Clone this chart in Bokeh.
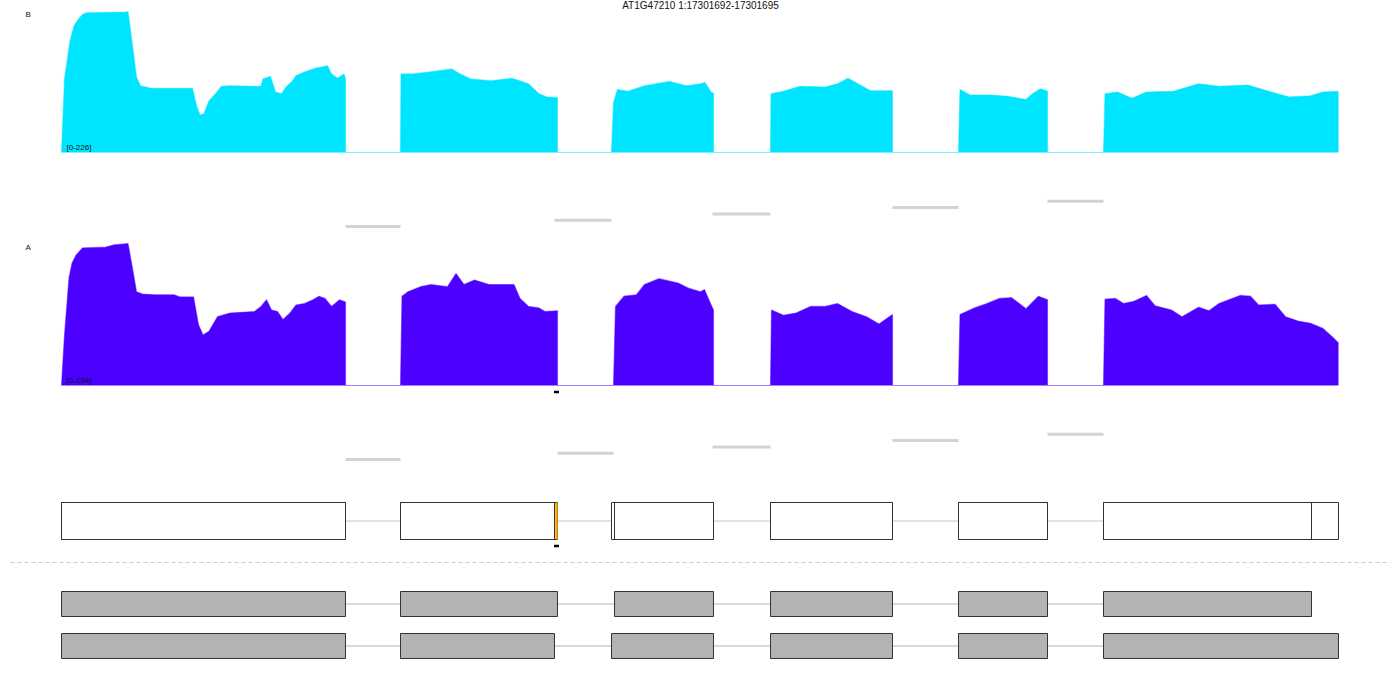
from bokeh.plotting import figure
from bokeh.models import Range1d, Label
from bokeh.embed import file_html
from bokeh.resources import INLINE

# ---------------- data ----------------
GENE = "AT1G47210"
CHROM = "1"
GENE_START = 17300704          # genomic coordinate of offset 0
LOCUS = (17301692, 17301695)   # highlighted locus

# coverage of sample B (offsets in bp from GENE_START, read depth)
B_POS = [0, 6, 17, 25, 34, 42, 50, 129, 133, 142, 150, 158, 179, 262, 270, 277, 285, 295, 308, 320,
         337, 399, 403, 418, 428, 440, 449, 461, 469, 486, 507, 532, 540, 552, 565, 568,
         568, 678,
         679, 702, 735, 781, 797, 818, 859, 901, 934, 955, 971, 988, 992,
         992, 1100,
         1104, 1112, 1133, 1166, 1216, 1250, 1278, 1287, 1299, 1304,
         1304, 1418,
         1419, 1444, 1477, 1527, 1552, 1573, 1593, 1618, 1661, 1662,
         1662, 1794,
         1797, 1817, 1859, 1892, 1929, 1942, 1958, 1972,
         1972, 2084,
         2087, 2112, 2141, 2170, 2224, 2274, 2315, 2373, 2423, 2456, 2498, 2523, 2554]
B_COV = [0, 118, 179, 203, 214, 221, 224, 225, 226, 171, 121, 107, 103, 103, 75, 60, 62, 83, 94, 106,
         107, 106, 118, 122, 97, 94, 105, 114, 123, 129, 135, 139, 126, 119, 126, 117,
         0, 0,
         126, 126, 129, 134, 126, 118, 115, 119, 110, 94, 89, 88, 88,
         0, 0,
         80, 101, 98, 107, 114, 107, 110, 112, 97, 95,
         0, 0,
         94, 98, 106, 105, 110, 119, 110, 99, 99, 99,
         0, 0,
         101, 92, 92, 90, 85, 94, 102, 98,
         0, 0,
         94, 97, 87, 97, 98, 110, 106, 108, 96, 89, 91, 97, 98]
B_MAX = 226

# coverage of sample A
A_POS = [0, 6, 15, 21, 29, 42, 88, 104, 133, 142, 150, 162, 187, 225, 237, 264, 274, 283, 295, 312,
         337, 386, 399, 410, 420, 432, 443, 457, 469, 486, 503, 515, 527, 540, 556, 568,
         568, 678,
         681, 693, 718, 739, 772, 789, 805, 826, 855, 905, 917, 934, 955, 967, 992,
         992, 1104,
         1108, 1125, 1150, 1166, 1195, 1233, 1254, 1278, 1286, 1298, 1304,
         1304, 1418,
         1420, 1444, 1469, 1498, 1527, 1552, 1581, 1610, 1635, 1662,
         1662, 1794,
         1797, 1826, 1851, 1876, 1900, 1929, 1954, 1972,
         1972, 2084,
         2087, 2108, 2124, 2145, 2170, 2187, 2220, 2241, 2274, 2295, 2315, 2357, 2378, 2394, 2427,
         2448, 2473, 2498, 2523, 2544, 2554]
A_COV = [0, 69, 147, 167, 178, 188, 189, 192, 194, 160, 128, 125, 124, 124, 121, 121, 83, 69, 74, 94,
         99, 101, 108, 117, 103, 101, 90, 99, 110, 112, 117, 122, 119, 108, 117, 114,
         0, 0,
         122, 128, 135, 138, 135, 153, 138, 144, 138, 138, 119, 108, 106, 101, 102,
         0, 0,
         108, 122, 124, 138, 146, 140, 133, 128, 131, 112, 103,
         0, 0,
         103, 96, 99, 108, 108, 112, 101, 94, 84, 97,
         0, 0,
         97, 106, 112, 119, 120, 105, 122, 117,
         0, 0,
         118, 119, 112, 115, 123, 109, 103, 94, 107, 102, 112, 123, 122, 110, 111,
         94, 88, 85, 78, 65, 58]
A_MAX = 194

# splice junctions (start, end offsets)
B_JUNC_START = [568, 986, 1302, 1662, 1972]
B_JUNC_END = [678, 1100, 1418, 1794, 2084]
A_JUNC_START = [568, 992, 1302, 1662, 1972]
A_JUNC_END = [678, 1104, 1418, 1794, 2084]

# transcripts (exon starts / ends, offsets)
T1_STARTS = [0, 678, 1106, 1418, 1794, 2084]
T1_ENDS = [568, 992, 1304, 1662, 1972, 2500]
T2_STARTS = [0, 678, 1100, 1418, 1794, 2084]
T2_ENDS = [568, 986, 1304, 1662, 1972, 2554]

assert len(B_POS) == len(B_COV) and len(A_POS) == len(A_COV)

# ---------------- layout ----------------
W, H = 1400, 700
X0_PX, X1_PX = 61, 1338
SPAN = T2_ENDS[-1] - T1_STARTS[0]
BP_PER_PX = SPAN / (X1_PX - X0_PX)
xr = Range1d(-X0_PX * BP_PER_PX, (W - X0_PX) * BP_PER_PX)

p = figure(width=W, height=H, x_range=xr, y_range=Range1d(H, 0),
           toolbar_location=None, output_backend="svg", min_border=0,
           background_fill_color="white", border_fill_color="white")
p.axis.visible = False
p.xgrid.visible = False
p.ygrid.visible = False
p.outline_line_color = None


def track_range(base_px, top_px, vmax):
    per = vmax / (base_px - top_px)
    return Range1d(start=-(H - base_px) * per, end=vmax + top_px * per)


p.extra_y_ranges = {"B": track_range(152, 11, B_MAX), "A": track_range(385, 243, A_MAX)}

COL_B = "#00e5ff"
COL_A = "#4c00ff"
FONT = "Liberation Sans"

for name, pos, cov, col in (("B", B_POS, B_COV, COL_B), ("A", A_POS, A_COV, COL_A)):
    p.varea(x=pos, y1=[0] * len(pos), y2=cov, fill_color=col, y_range_name=name)
    p.line(x=pos, y=cov, line_color=col, line_alpha=0.5, line_width=1.2, y_range_name=name)

# junction lines (stacked levels)
for js, je, base in ((B_JUNC_START, B_JUNC_END, 226), (A_JUNC_START, A_JUNC_END, 459)):
    ys = [base - 6.3 * k for k in range(len(js))]
    p.segment(x0=js, x1=je, y0=ys, y1=ys, line_color="#d3d3d3", line_width=3)

# gene model (union of transcripts)
GM_TOP, GM_BOT = 502, 539
gm_starts = [min(a, b) for a, b in zip(T1_STARTS, T2_STARTS)]
gm_ends = [max(a, b) for a, b in zip(T1_ENDS, T2_ENDS)]
p.segment(x0=gm_ends[:-1], x1=gm_starts[1:], y0=[(GM_TOP + GM_BOT) / 2] * 5,
          y1=[(GM_TOP + GM_BOT) / 2] * 5, line_color="#d9d9d9", line_width=1.5)
for st, en in ((T1_STARTS, T1_ENDS), (T2_STARTS, T2_ENDS)):
    p.quad(left=st, right=en, top=[GM_TOP] * len(st), bottom=[GM_BOT] * len(st),
           fill_alpha=0, line_color="#333333", line_width=1)

loc_l = LOCUS[0] - GENE_START
loc_r = LOCUS[1] + 1 - GENE_START
p.quad(left=[loc_l], right=[loc_r], top=[GM_TOP + 0.5], bottom=[GM_BOT - 0.5],
       fill_color="#ffa500", line_color="#ffa500", line_width=0.5)
loc_c = (loc_l + loc_r) / 2
p.rect(x=[loc_c, loc_c], y=[391.5, 545.5], width=5, height=2.5,
       width_units="screen", height_units="screen", fill_color="black", line_color=None)

# separator
p.segment(x0=[xr.start + 10 * BP_PER_PX], x1=[xr.end - 10 * BP_PER_PX], y0=[562], y1=[562],
          line_color="#cccccc", line_width=1, line_dash="4 3")

# transcripts
for st, en, top in ((T1_STARTS, T1_ENDS, 591), (T2_STARTS, T2_ENDS, 633)):
    bot = top + 25
    mid = (top + bot) / 2
    p.segment(x0=en[:-1], x1=st[1:], y0=[mid] * (len(st) - 1), y1=[mid] * (len(st) - 1),
              line_color="#d9d9d9", line_width=2)
    p.quad(left=st, right=en, top=[top] * len(st), bottom=[bot] * len(st),
           fill_color="#b3b3b3", line_color="#333333", line_width=1)

# texts
title = f"{GENE} {CHROM}:{LOCUS[0]}-{LOCUS[1]}"
p.add_layout(Label(x=W / 2, y=H + 1, x_units="screen", y_units="screen", text=title,
                   text_align="center", text_baseline="top", text_font=FONT,
                   text_font_size="10px", text_color="#111111"))
for lab, ytop, rng, base in (("B", 9, f"[0-{B_MAX}]", 151), ("A", 242, f"[0-{A_MAX}]", 384)):
    p.add_layout(Label(x=25, y=H - ytop, x_units="screen", y_units="screen", text=lab,
                       text_baseline="top", text_font=FONT, text_font_size="8px",
                       text_color="#111111"))
    p.add_layout(Label(x=66, y=H - base, x_units="screen", y_units="screen", text=rng,
                       text_baseline="bottom", text_font=FONT, text_font_size="8px",
                       text_color="#111111"))

open("out.html", "w").write(file_html(p, INLINE))
